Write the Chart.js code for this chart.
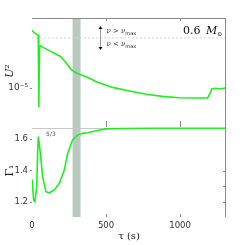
<!DOCTYPE html>
<html>
<head>
<meta charset="utf-8">
<script src="https://cdn.jsdelivr.net/npm/chart.js@4"></script>
<style>
  body { margin: 0; background: #fff; }
  #wrap { position: relative; width: 249px; height: 245px; }
  #wrap canvas { position: absolute; left: 0; }
</style>
</head>
<body>
<div id="wrap">
  <canvas id="topChart" width="249" height="124" style="top:0"></canvas>
  <canvas id="botChart" width="249" height="121" style="top:124px"></canvas>
</div>
<script>
/******************* data ***********************/
// time axis (s)
const X_MAX = 1310;
const xTickValues = [0, 500, 1000];
const bandTau = [274, 328];

// top panel: U^2 (log)
const tauTop = [0, 16, 27, 42, 46, 51, 57, 120, 195, 230, 263, 296, 321, 375, 434, 544, 658, 771, 881, 995, 1108, 1186, 1202, 1216, 1243, 1265, 1305];
const u2 = [6.65e-5, 6.1e-5, 5.97e-5, 5.7e-5, 5.3e-6, 3.9e-5, 4.0e-5, 3.39e-5, 2.80e-5, 2.29e-5, 1.85e-5, 1.65e-5, 1.57e-5, 1.42e-5, 1.23e-5, 1.02e-5, 9.06e-6, 8.12e-6, 7.6e-6, 7.26e-6, 7.2e-6, 7.2e-6, 8.4e-6, 9.77e-6, 9.9e-6, 9.7e-6, 1.0e-5];
const u2Ticks = [1e-5];
const nuMaxU2 = 5.2e-5;
const arrowTau = 460;
const arrowU2 = [7.7e-5, 3.5e-5];

// bottom panel: Gamma_1
const tauBot = [0, 11, 20, 32, 38, 43, 54, 72, 94, 117, 151, 185, 218, 241, 274, 308, 341, 375, 450, 501, 600, 800, 1000, 1200, 1305];
const gamma1 = [1.345, 1.215, 1.204, 1.299, 1.512, 1.615, 1.53, 1.362, 1.267, 1.26, 1.278, 1.32, 1.404, 1.51, 1.594, 1.625, 1.636, 1.64, 1.655, 1.664, 1.667, 1.668, 1.668, 1.668, 1.668];
const gammaTicks = [1.2, 1.4, 1.6];
const gammaRightTicks = [1.2, 1.3, 1.4];
const gammaRef = 5 / 3;

/******************* style ***********************/
const GREEN = 'rgb(30, 240, 30)';
const SPINE = '#8a8a8a';
const BAND = '#b9c9c0';
const TICK_FONT = {family: 'DejaVu Sans', size: 8.5};
const SERIF = 'DejaVu Serif';

// band, spines and inward tick marks for each panel
const panelPlugin = {
    id: 'panel',
    beforeDatasetsDraw(chart, args, opts) {
        const {ctx, chartArea: a, scales: {x}} = chart;
        ctx.save();
        ctx.fillStyle = BAND;
        const x0 = x.getPixelForValue(bandTau[0]);
        const x1 = x.getPixelForValue(bandTau[1]);
        ctx.fillRect(x0, a.top, x1 - x0, a.bottom - a.top);
        ctx.restore();
    },
    afterDraw(chart, args, opts) {
        const {ctx, chartArea: a, scales: {x, y}} = chart;
        ctx.save();
        ctx.strokeStyle = SPINE;
        ctx.lineWidth = 1;
        ctx.beginPath();
        if (opts.topSpine) {
            ctx.moveTo(a.left, a.top + 0.5);
            ctx.lineTo(a.right, a.top + 0.5);
        }
        ctx.moveTo(a.right - 0.5, a.top);
        ctx.lineTo(a.right - 0.5, a.bottom);
        xTickValues.slice(1).forEach(v => {
            const px = Math.round(x.getPixelForValue(v)) + 0.5;
            ctx.moveTo(px, a.top);
            ctx.lineTo(px, a.top + 3);
            ctx.moveTo(px, a.bottom);
            ctx.lineTo(px, a.bottom - 3);
        });
        (opts.rightTicks || []).forEach(v => {
            const py = Math.round(y.getPixelForValue(v)) + 0.5;
            ctx.moveTo(a.right, py);
            ctx.lineTo(a.right - 3, py);
        });
        ctx.stroke();
        if (opts.draw) opts.draw(chart);
        ctx.restore();
    }
};

function drawTopText(chart) {
    const {ctx, scales: {x, y}} = chart;
    // double arrow nu_max
    const ax = Math.round(x.getPixelForValue(arrowTau)) + 0.5;
    const ay0 = y.getPixelForValue(arrowU2[0]);
    const ay1 = y.getPixelForValue(arrowU2[1]);
    ctx.strokeStyle = '#999';
    ctx.beginPath();
    ctx.moveTo(ax, ay0 + 2);
    ctx.lineTo(ax, ay1 - 2);
    ctx.stroke();
    ctx.fillStyle = '#111';
    ctx.beginPath();
    ctx.moveTo(ax, ay0); ctx.lineTo(ax - 2, ay0 + 3); ctx.lineTo(ax + 2, ay0 + 3); ctx.closePath();
    ctx.moveTo(ax, ay1); ctx.lineTo(ax - 2, ay1 - 3); ctx.lineTo(ax + 2, ay1 - 3); ctx.closePath();
    ctx.fill();

    ctx.fillStyle = '#333';
    ctx.textBaseline = 'alphabetic';
    const rows = [['ν > ν', ay0 + 7], ['ν < ν', ay1 - 4]];
    rows.forEach(([t, ty]) => {
        ctx.font = 'italic 7px ' + SERIF;
        ctx.fillText(t, ax + 6, ty);
        const w = ctx.measureText(t).width;
        ctx.font = '5px DejaVu Sans';
        ctx.fillText('max', ax + 6 + w, ty + 2);
    });

    // mass label
    ctx.fillStyle = '#111';
    ctx.font = '11px ' + SERIF;
    let tx = 183;
    ctx.fillText('0.6', tx, 34);
    tx += ctx.measureText('0.6 ').width + 2;
    ctx.font = 'italic 11px ' + SERIF;
    ctx.fillText('M', tx, 34);
    tx += ctx.measureText('M').width;
    ctx.font = '6px ' + SERIF;
    ctx.fillText('⊙', tx, 36);
}

function drawBotText(chart) {
    const {ctx, scales: {x, y}} = chart;
    ctx.fillStyle = '#555';
    ctx.font = '6px DejaVu Sans';
    ctx.fillText('5/3', x.getPixelForValue(95), y.getPixelForValue(gammaRef) + 8);
}

function yScale(extra) {
    return Object.assign({
        afterFit(s) { s.width = 32; s.paddingTop = 0; s.paddingBottom = 0; },
        border: {display: false},
        grid: {drawOnChartArea: false, tickLength: 2, color: SPINE},
        ticks: {font: TICK_FONT, color: '#333', padding: 2},
    }, extra);
}

/******************* top panel ***********************/
const topChart = new Chart(document.getElementById('topChart'), {
    type: 'line',
    data: {
        datasets: [
            {
                data: tauTop.map((t, i) => ({x: t, y: u2[i]})),
                borderColor: GREEN,
                borderWidth: 1.6,
                pointRadius: 0,
            },
            {
                data: [{x: 0, y: nuMaxU2}, {x: X_MAX, y: nuMaxU2}],
                borderColor: '#d4d4d4',
                borderWidth: 1,
                borderDash: [2, 2],
                pointRadius: 0,
            }
        ]
    },
    options: {
        responsive: false,
        animation: false,
        layout: {padding: {top: 18, right: 23, left: 0, bottom: 0}},
        plugins: {
            legend: {display: false},
            tooltip: {enabled: false},
            panel: {topSpine: true, draw: drawTopText}
        },
        scales: {
            x: {type: 'linear', min: 0, max: X_MAX, display: false},
            y: yScale({
                type: 'logarithmic',
                min: 3.06e-6,
                max: 1e-4,
                afterBuildTicks(s) { s.ticks = u2Ticks.map(v => ({value: v})); },
                ticks: {font: {family: 'DejaVu Sans', size: 9}, color: '#333', padding: 2, callback: () => '10⁻⁵'},
                title: {display: true, text: 'U²', font: {family: SERIF, style: 'italic', size: 11}, color: '#222', padding: {top: 4, bottom: 0}}
            })
        }
    },
    plugins: [panelPlugin]
});

/******************* bottom panel ***********************/
const botChart = new Chart(document.getElementById('botChart'), {
    type: 'line',
    data: {
        datasets: [
            {
                data: tauBot.map((t, i) => ({x: t, y: gamma1[i]})),
                borderColor: GREEN,
                borderWidth: 1.6,
                pointRadius: 0,
            },
            {
                data: [{x: 0, y: gammaRef}, {x: X_MAX, y: gammaRef}],
                borderColor: '#c8c8c8',
                borderWidth: 1.2,
                pointRadius: 0,
            }
        ]
    },
    options: {
        responsive: false,
        animation: false,
        layout: {padding: {top: 0, right: 23, left: 0, bottom: 0}},
        plugins: {
            legend: {display: false},
            tooltip: {enabled: false},
            panel: {topSpine: false, rightTicks: gammaRightTicks, draw: drawBotText}
        },
        scales: {
            x: {
                type: 'linear',
                min: 0,
                max: X_MAX,
                afterFit(s) { s.height = 28; s.paddingLeft = 0; s.paddingRight = 0; },
                afterBuildTicks(s) { s.ticks = xTickValues.map(v => ({value: v})); },
                border: {display: false},
                grid: {display: false, drawTicks: false},
                ticks: {font: TICK_FONT, color: '#333', padding: 4, maxRotation: 0, callback: v => String(v)},
                title: {display: true, text: 'τ (s)', font: {family: SERIF, size: 10}, color: '#222', padding: {top: 0, bottom: 3}}
            },
            y: yScale({
                type: 'linear',
                min: 1.107,
                max: 1.695,
                afterBuildTicks(s) { s.ticks = gammaTicks.map(v => ({value: v})); },
                ticks: {font: TICK_FONT, color: '#333', padding: 2, callback: v => v.toFixed(1)},
                title: {display: true, text: 'Γ₁', font: {family: SERIF, size: 11}, color: '#222', padding: {top: 4, bottom: 0}}
            })
        }
    },
    plugins: [panelPlugin]
});
</script>
</body>
</html>
